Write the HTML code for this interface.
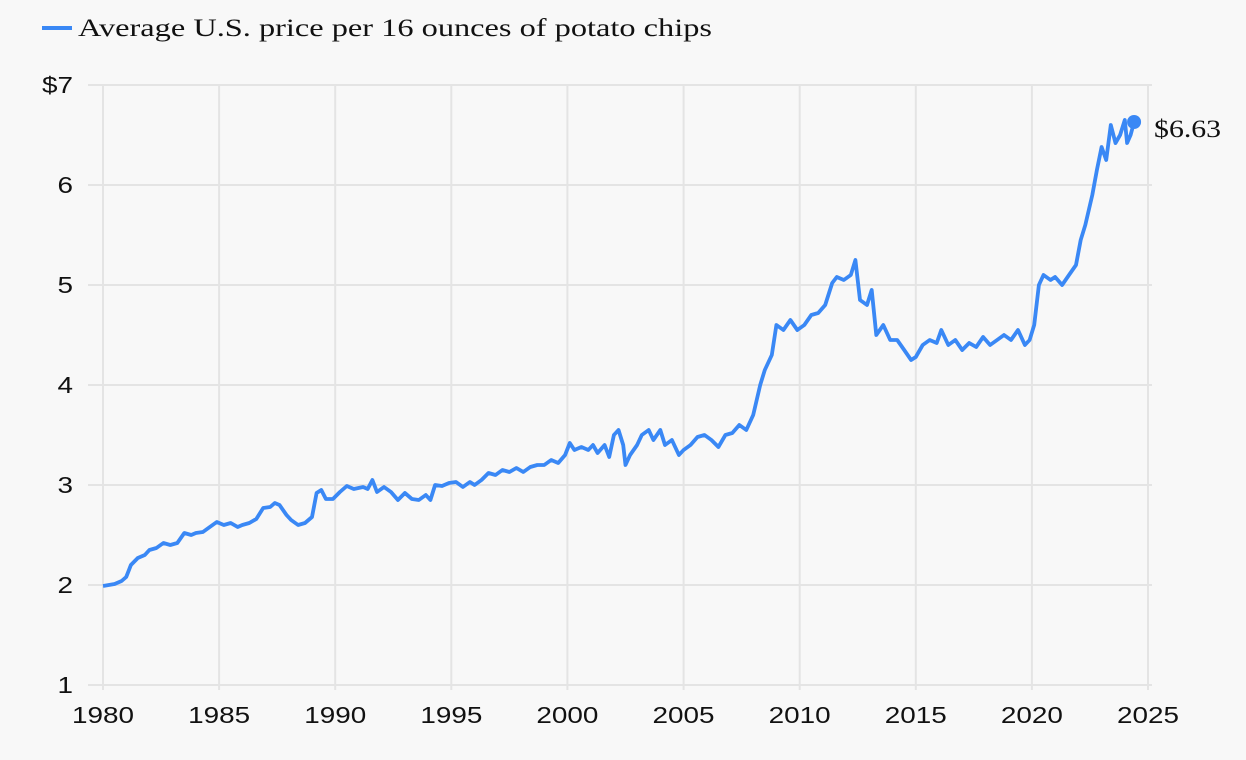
<!DOCTYPE html>
<html><head><meta charset="utf-8"><style>
body{margin:0;background:#f8f8f8;width:1246px;height:760px;overflow:hidden}
svg{display:block}
.tick{font-family:"Liberation Sans",sans-serif;font-size:23px;fill:#111}
.serif{font-family:"Liberation Serif",serif;fill:#111}
</style></head><body>
<svg id="chart" width="1246" height="760">
<g>
<line x1="42" y1="28" x2="72" y2="28" stroke="#3a88f5" stroke-width="4"/>
<text x="78" y="36" class="serif" font-size="25" textLength="634" lengthAdjust="spacingAndGlyphs">Average U.S. price per 16 ounces of potato chips</text>
</g>
<g id="grid"></g>
<g id="axes"></g>
<path id="line" fill="none" stroke="#3a88f5" stroke-width="3.8" stroke-linejoin="round"/>
<circle id="endDot" r="7" fill="#3a88f5"/>
<text id="endLabel" class="serif" font-size="25" textLength="67" lengthAdjust="spacingAndGlyphs">$6.63</text>
</svg>
<script>
const years=[1980,1980.5,1980.8,1981,1981.2,1981.5,1981.8,1982,1982.3,1982.6,1982.9,1983.2,1983.5,1983.8,1984,1984.3,1984.6,1984.9,1985.2,1985.5,1985.8,1986,1986.3,1986.6,1986.9,1987.2,1987.4,1987.6,1987.9,1988.1,1988.4,1988.7,1989,1989.2,1989.4,1989.6,1989.9,1990.2,1990.5,1990.8,1991.2,1991.4,1991.6,1991.8,1992.1,1992.4,1992.7,1993,1993.3,1993.6,1993.9,1994.1,1994.3,1994.6,1994.9,1995.2,1995.5,1995.8,1996,1996.3,1996.6,1996.9,1997.2,1997.5,1997.8,1998.1,1998.4,1998.7,1999,1999.3,1999.6,1999.9,2000.1,2000.3,2000.6,2000.9,2001.1,2001.3,2001.6,2001.8,2002,2002.2,2002.4,2002.5,2002.7,2003,2003.2,2003.5,2003.7,2004,2004.2,2004.5,2004.8,2005,2005.3,2005.6,2005.9,2006.2,2006.5,2006.8,2007.1,2007.4,2007.7,2008,2008.3,2008.5,2008.8,2009,2009.3,2009.6,2009.9,2010.2,2010.5,2010.8,2011.1,2011.4,2011.6,2011.9,2012.2,2012.4,2012.6,2012.9,2013.1,2013.3,2013.6,2013.9,2014.2,2014.5,2014.8,2015,2015.3,2015.6,2015.9,2016.1,2016.4,2016.7,2017,2017.3,2017.6,2017.9,2018.2,2018.5,2018.8,2019.1,2019.4,2019.7,2019.9,2020.1,2020.3,2020.5,2020.8,2021,2021.3,2021.6,2021.9,2022.1,2022.3,2022.6,2022.8,2023,2023.2,2023.4,2023.6,2023.8,2024,2024.1,2024.25,2024.4];
const prices=[1.99,2.01,2.04,2.08,2.2,2.27,2.3,2.35,2.37,2.42,2.4,2.42,2.52,2.5,2.52,2.53,2.58,2.63,2.6,2.62,2.58,2.6,2.62,2.66,2.77,2.78,2.82,2.8,2.7,2.65,2.6,2.62,2.68,2.92,2.95,2.86,2.86,2.93,2.99,2.96,2.98,2.96,3.05,2.93,2.98,2.93,2.85,2.92,2.86,2.85,2.9,2.85,3.0,2.99,3.02,3.03,2.98,3.03,3.0,3.05,3.12,3.1,3.15,3.13,3.17,3.13,3.18,3.2,3.2,3.25,3.22,3.3,3.42,3.35,3.38,3.35,3.4,3.32,3.4,3.28,3.5,3.55,3.4,3.2,3.3,3.4,3.5,3.55,3.45,3.55,3.4,3.45,3.3,3.35,3.4,3.48,3.5,3.45,3.38,3.5,3.52,3.6,3.55,3.7,4.0,4.15,4.3,4.6,4.55,4.65,4.55,4.6,4.7,4.72,4.8,5.02,5.08,5.05,5.1,5.25,4.85,4.8,4.95,4.5,4.6,4.45,4.45,4.35,4.25,4.28,4.4,4.45,4.42,4.55,4.4,4.45,4.35,4.42,4.38,4.48,4.4,4.45,4.5,4.45,4.55,4.4,4.45,4.6,5.0,5.1,5.05,5.08,5.0,5.1,5.2,5.45,5.6,5.9,6.15,6.38,6.25,6.6,6.42,6.5,6.65,6.42,6.5,6.63];
const yTicks=[1,2,3,4,5,6,7];
const xTicks=[1980,1985,1990,1995,2000,2005,2010,2015,2020,2025];
const NS="http://www.w3.org/2000/svg";
const x=v=>103+(v-1980)*(1148-103)/45;
const y=v=>685-(v-1)*100;
const grid=document.getElementById('grid'),axes=document.getElementById('axes');
function mk(tag,attrs,parent){const e=document.createElementNS(NS,tag);for(const k in attrs)e.setAttribute(k,attrs[k]);parent.appendChild(e);return e;}
yTicks.forEach(t=>{
 const l=mk('line',{x1:88,x2:1152,y1:y(t),y2:y(t),stroke:'#e4e4e4','stroke-width':2},grid);
 
 
 const s=t===7?'$7':String(t);
 const tx=mk('text',{x:73,y:y(t)+8,'text-anchor':'end',class:'tick',textLength:(s.length*15.5),lengthAdjust:'spacingAndGlyphs'},axes);
 tx.textContent=s;
 
 
});
xTicks.forEach(t=>{
 const l=mk('line',{x1:x(t),x2:x(t),y1:85,y2:690,stroke:'#e4e4e4','stroke-width':2},grid);
 
 
 const tx=mk('text',{x:x(t),y:723,'text-anchor':'middle',class:'tick',textLength:62,lengthAdjust:'spacingAndGlyphs'},axes);
 tx.textContent=String(t);
 
 
});
document.getElementById('line').setAttribute('d',years.map((yr,i)=>(i?'L':'M')+x(yr).toFixed(1)+','+y(prices[i]).toFixed(1)).join(''));
const lx=x(years[years.length-1]),ly=y(prices[prices.length-1]);
const d=document.getElementById('endDot');d.setAttribute('cx',lx);d.setAttribute('cy',ly);
const el=document.getElementById('endLabel');el.setAttribute('x',lx+20);el.setAttribute('y',ly+15);
el.textContent='$'+prices[prices.length-1].toFixed(2);
</script>
</body></html>
